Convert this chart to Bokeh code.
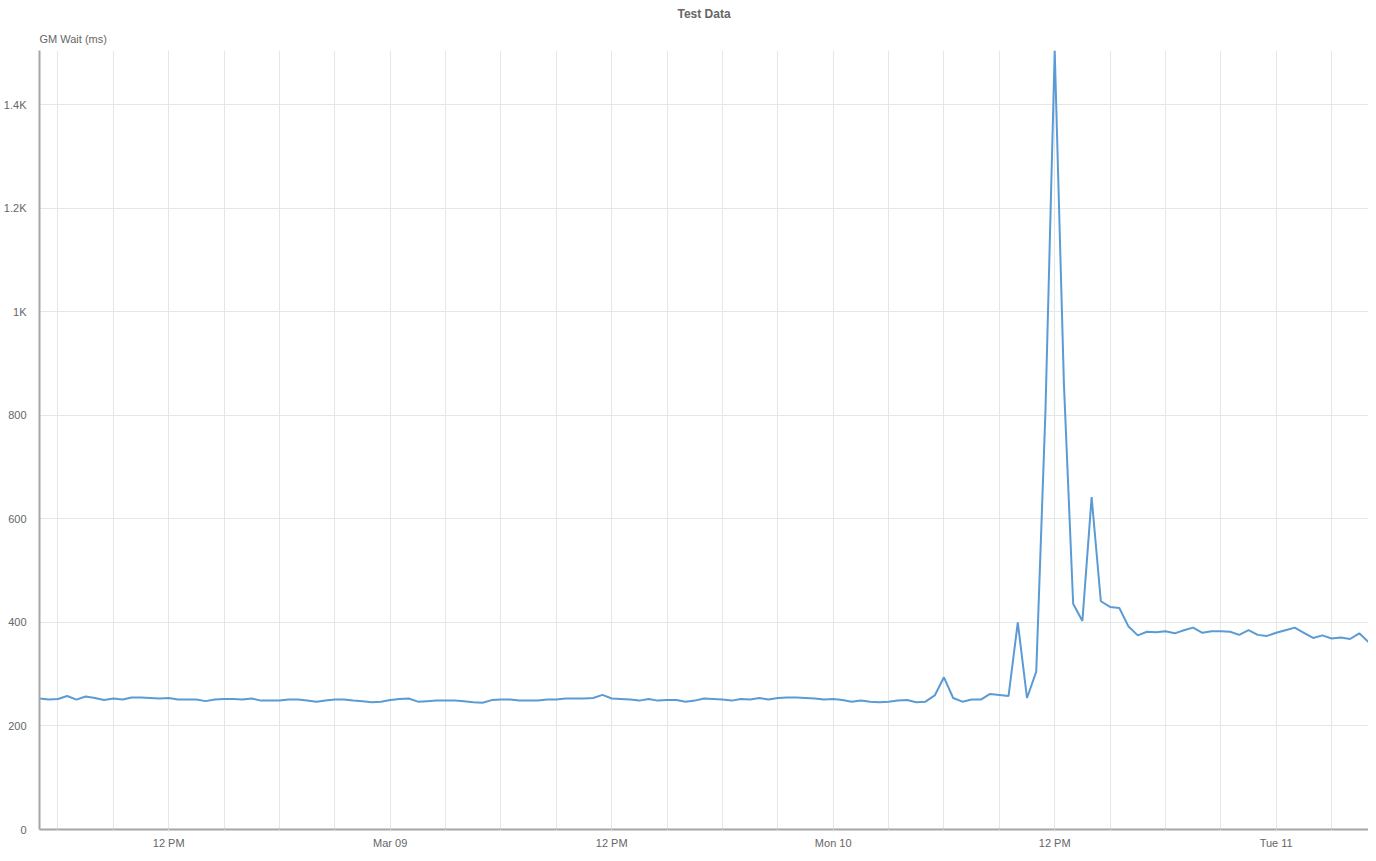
import pandas as pd
from bokeh.plotting import figure
from bokeh.models import Range1d, FixedTicker, Title
from bokeh.embed import file_html
from bokeh.resources import INLINE

# ---- data: GM wait (ms), one sample every 30 minutes from Sat 2025-03-08 05:00
start_time = "2025-03-08 05:00"
end_time = "2025-03-11 05:00"
sample_freq = "30min"
gm_wait = [
    253, 251, 252, 258, 251, 257, 254, 250, 253, 251,
    255, 255, 254, 253, 254, 251, 251, 251, 248, 251,
    252, 252, 251, 253, 249, 249, 249, 251, 251, 249,
    247, 249, 251, 251, 249, 248, 246, 247, 250, 252,
    253, 247, 248, 249, 249, 249, 248, 246, 245, 250,
    251, 251, 249, 249, 249, 251, 251, 253, 253, 253,
    254, 260, 253, 252, 251, 249, 252, 249, 250, 250,
    247, 249, 253, 252, 251, 249, 252, 251, 254, 251,
    254, 255, 255, 254, 253, 251, 252, 250, 247, 249,
    247, 246, 247, 249, 250, 246, 247, 259, 294, 254,
    247, 251, 251, 262, 260, 258, 400, 254, 305, 810,
    1505, 860, 436, 403, 642, 441, 430, 428, 392, 375,
    382, 381, 383, 379, 385, 390, 380, 383, 383, 382,
    376, 385, 376, 374, 380, 385, 390, 380, 370, 375,
    369, 371, 368, 379, 362,
]
x_label_times = ["2025-03-08 12:00", "2025-03-09 00:00", "2025-03-09 12:00",
                 "2025-03-10 00:00", "2025-03-10 12:00", "2025-03-11 00:00"]
x_labels = ["12 PM", "Mar 09", "12 PM", "Mon 10", "12 PM", "Tue 11"]
y_ticks = [0, 200, 400, 600, 800, 1000, 1200, 1400]
y_labels = ["0", "200", "400", "600", "800", "1K", "1.2K", "1.4K"]
y_max = 1505

times = pd.date_range(start_time, periods=len(gm_wait), freq=sample_freq)


def ms(t):
    return pd.Timestamp(t).value // 10**6


FONT = "Liberation Sans"
TEXT = "#666666"
GRID = "#e6e6e6"
AXIS = "#a6a6a6"

p = figure(frame_width=1329, frame_height=779, x_axis_type="datetime",
           output_backend="svg", toolbar_location=None,
           x_range=Range1d(pd.Timestamp(start_time), pd.Timestamp(end_time)),
           y_range=Range1d(0, y_max),
           min_border_left=31, min_border_right=0, min_border_top=0,
           min_border_bottom=0)
p.outline_line_color = None

p.line(times, gm_wait, line_color="#5b9bd5", line_width=2)

p.add_layout(Title(text="GM Wait (ms)", align="left", text_font=FONT,
                   text_font_size="11px", text_font_style="normal",
                   text_color=TEXT, standoff=12), "above")
p.add_layout(Title(text="Test Data", align="center", text_font=FONT,
                   text_font_size="12px", text_font_style="bold",
                   text_color=TEXT, standoff=8), "above")

# x axis
major = [ms(t) for t in x_label_times]
minor = [ms(t) for t in pd.date_range("2025-03-08 06:00", "2025-03-11 03:00", freq="3h")]
p.xaxis.ticker = FixedTicker(ticks=major, minor_ticks=minor)
p.xaxis.major_label_overrides = {m: lab for m, lab in zip(major, x_labels)}
p.xaxis.axis_line_color = AXIS
p.xaxis.axis_line_width = 2
p.xaxis.major_tick_line_color = GRID
p.xaxis.minor_tick_line_color = GRID
p.xaxis.major_tick_out = 2
p.xaxis.major_tick_in = 0
p.xaxis.minor_tick_out = 2
p.xaxis.minor_tick_in = 0
p.xaxis.major_label_text_font = FONT
p.xaxis.major_label_text_font_size = "11px"
p.xaxis.major_label_text_color = TEXT
p.xaxis.major_label_standoff = 5

# y axis
p.yaxis.ticker = FixedTicker(ticks=y_ticks)
p.yaxis.major_label_overrides = {t: lab for t, lab in zip(y_ticks, y_labels)}
p.yaxis.axis_line_color = AXIS
p.yaxis.axis_line_width = 2
p.yaxis.major_tick_line_color = None
p.yaxis.minor_tick_line_color = None
p.yaxis.major_label_text_font = FONT
p.yaxis.major_label_text_font_size = "11px"
p.yaxis.major_label_text_color = TEXT
p.yaxis.major_label_standoff = 7

p.xgrid.grid_line_color = GRID
p.xgrid.minor_grid_line_color = GRID
p.ygrid.grid_line_color = GRID

open("out.html", "w").write(file_html(p, INLINE))
